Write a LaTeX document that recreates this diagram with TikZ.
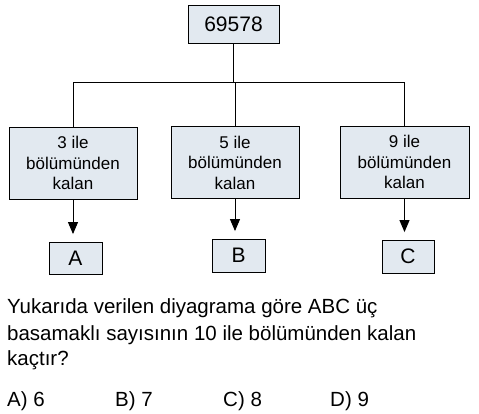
\documentclass[tikz,border=0pt]{standalone}
\usepackage{fontspec}
\setmainfont{Liberation Sans}
\usetikzlibrary{arrows.meta}
\definecolor{boxfill}{RGB}{226,233,240}

\begin{document}
\begin{tikzpicture}[x=1pt,y=-1pt,
  box/.style={draw,fill=boxfill,line width=0.9pt,inner sep=0pt,align=center},
  mid/.style={font=\fontsize{17}{20.5}\selectfont},
  big/.style={font=\fontsize{21}{25}\selectfont},
  txt/.style={anchor=base west,inner sep=0pt,font=\fontsize{20.5}{25}\selectfont},
  arr/.style={line width=1pt,-{Triangle[width=10pt,length=12pt]},shorten >=7.5pt}]
  \useasboundingbox (0,0) rectangle (479,414);

  % top number
  \node[box,big,minimum width=91pt,minimum height=38pt] (num) at (233.5,24) {69578};

  % remainder boxes
  \node[box,mid,minimum width=128pt,minimum height=72pt] (b3) at (73,163) {3 ile\\bölümünden\\kalan};
  \node[box,mid,minimum width=128pt,minimum height=72pt] (b5) at (235,162.5) {5 ile\\bölümünden\\kalan};
  \node[box,mid,minimum width=129pt,minimum height=72pt] (b9) at (404.5,162) {9 ile\\bölümünden\\kalan};

  % digits
  \node[box,big,minimum width=53pt,minimum height=32pt] (ra) at (75.5,258) {A};
  \node[box,big,minimum width=53pt,minimum height=33pt] (rb) at (238.5,255.5) {B};
  \node[box,big,minimum width=52pt,minimum height=33pt] (rc) at (408,256.5) {C};

  % tree
  \coordinate (bar) at (0,82);
  \draw[line width=0.9pt] (num.south) -- (num.south |- bar);
  \draw[line width=0.9pt] (b3.north) -- (b3.north |- bar) -- (b9.north |- bar) -- (b9.north);
  \draw[line width=0.9pt] (b5.north) -- (b5.north |- bar);

  \draw[arr] (b3.south) -- (b3.south |- ra.north);
  \draw[arr] (b5.south) -- (b5.south |- rb.north);
  \draw[arr] (b9.south) -- (b9.south |- rc.north);

  % question
  \node[txt] (q1) at (7,313) {Yukarıda verilen diyagrama göre ABC üç};
  \node[txt] (q2) at (7,340) {basamaklı sayısının 10 ile bölümünden kalan};
  \node[txt] (q3) at (7,365) {kaçtır?};

  \node[txt] (a1) at (7,406) {A) 6};
  \node[txt] (a2) at (115,406) {B) 7};
  \node[txt] (a3) at (223,406) {C) 8};
  \node[txt] (a4) at (330,406) {D) 9};
\end{tikzpicture}
\end{document}
